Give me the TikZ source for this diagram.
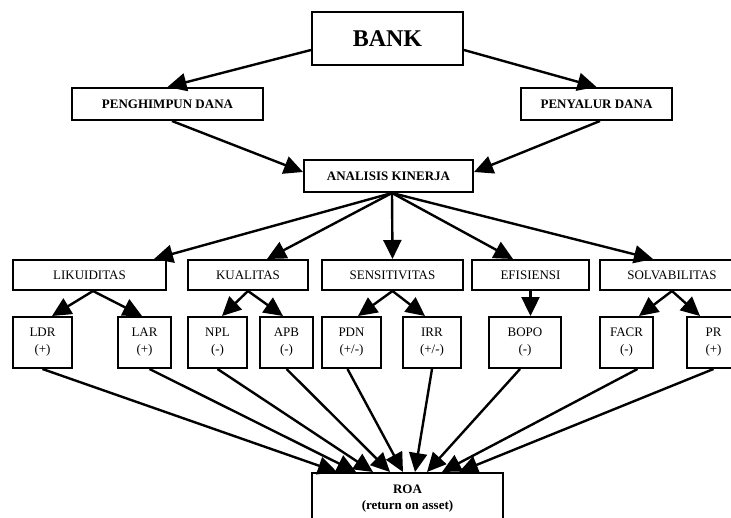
\documentclass[tikz,border=0pt]{standalone}
\usepackage{fontspec}
\setmainfont{Liberation Serif}
\usetikzlibrary{arrows.meta}
\begin{document}
\begin{tikzpicture}[x=1pt,y=-1pt,
  box/.style={draw,line width=2pt,inner sep=0pt,align=center,font=\fontsize{13}{17}\selectfont},
  leaf/.style={box,minimum height=51pt},
  arr/.style={-{Triangle[length=19pt,width=18pt]},line width=2.4pt}]
\clip (0,0) rectangle (731,517);
% top part
\node[box,minimum width=151pt,minimum height=53pt,font=\fontsize{24}{28}\selectfont\bfseries] (bank) at (387.5,38.5) {BANK};
\node[box,minimum width=191pt,minimum height=32pt,font=\fontsize{13}{17}\selectfont\bfseries] (hdana) at (167.5,104) {PENGHIMPUN DANA};
\node[box,minimum width=151pt,minimum height=32pt,font=\fontsize{13}{17}\selectfont\bfseries] (sdana) at (596.5,104) {PENYALUR DANA};
\node[box,minimum width=169pt,minimum height=32pt,font=\fontsize{13}{17}\selectfont\bfseries] (analisis) at (388.5,176) {ANALISIS KINERJA};
% categories
\node[box,minimum width=153pt,minimum height=30pt] (likuid) at (89.5,275) {LIKUIDITAS};
\node[box,minimum width=120pt,minimum height=30pt] (kualitas) at (248,275) {KUALITAS};
\node[box,minimum width=141pt,minimum height=30pt] (sensitiv) at (392.5,275) {SENSITIVITAS};
\node[box,minimum width=117pt,minimum height=30pt] (efisiensi) at (530.5,275) {EFISIENSI};
\node[box,minimum width=144pt,minimum height=30pt] (solva) at (672,275) {SOLVABILITAS};
% ratios
\node[leaf,minimum width=59pt] (ldr) at (42.5,342.5) {LDR\\(+)};
\node[leaf,minimum width=53pt] (lar) at (144.5,342.5) {LAR\\(+)};
\node[leaf,minimum width=59pt] (npl) at (217.5,342.5) {NPL\\(-)};
\node[leaf,minimum width=53pt] (apb) at (286.5,342.5) {APB\\(-)};
\node[leaf,minimum width=59pt] (pdn) at (351.5,342.5) {PDN\\(+/-)};
\node[leaf,minimum width=58pt] (irr) at (432,342.5) {IRR\\(+/-)};
\node[leaf,minimum width=72pt] (bopo) at (525,342.5) {BOPO\\(-)};
\node[leaf,minimum width=53pt] (facr) at (626.5,342.5) {FACR\\(-)};
\node[leaf,minimum width=53pt] (pr) at (713.5,342.5) {PR\\(+)};
% result
\node[box,minimum width=191pt,minimum height=52pt,font=\fontsize{13}{16}\selectfont\bfseries] (roa) at (407.5,499) {ROA\\(return on asset)};

\draw[arr] ([yshift=-11.5pt]bank.west) -- (hdana.north);
\draw[arr] ([yshift=-11.5pt]bank.east) -- (sdana.north);
\draw[arr] ([xshift=4.5pt]hdana.south) -- ([yshift=4pt]analisis.west);
\draw[arr] ([xshift=3.5pt]sdana.south) -- ([yshift=4pt]analisis.east);

\draw[arr] ([xshift=3.5pt]analisis.south) -- ([xshift=-13pt]likuid.north east);
\draw[arr] ([xshift=3.5pt]analisis.south) -- ([xshift=19pt]kualitas.north);
\draw[arr] ([xshift=3.5pt]analisis.south) -- (sensitiv.north);
\draw[arr] ([xshift=3.5pt]analisis.south) -- ([xshift=-17.5pt]efisiensi.north);
\draw[arr] ([xshift=3.5pt]analisis.south) -- ([xshift=-19pt]solva.north);

\draw[arr] ([xshift=3.5pt]likuid.south) -- ([xshift=9.5pt]ldr.north);
\draw[arr] ([xshift=3.5pt]likuid.south) -- ([xshift=-2.5pt]lar.north);
\draw[arr] (kualitas.south) -- ([xshift=4.5pt]npl.north);
\draw[arr] (kualitas.south) -- ([xshift=-3.5pt]apb.north);
\draw[arr] (sensitiv.south) -- ([xshift=6.5pt]pdn.north);
\draw[arr] (sensitiv.south) -- ([xshift=-7pt]irr.north);
\draw[arr] (efisiensi.south) -- (efisiensi.south |- bopo.north);
\draw[arr] (solva.south) -- ([xshift=12.5pt]facr.north);
\draw[arr] (solva.south) -- ([xshift=-13.5pt]pr.north);

\draw[arr] (ldr.south) -- ([xshift=26pt]roa.north west);
\draw[arr] ([xshift=5pt]lar.south) -- ([xshift=45pt]roa.north west);
\draw[arr] (npl.south) -- ([xshift=62pt]roa.north west);
\draw[arr] (apb.south) -- ([xshift=79pt]roa.north west);
\draw[arr] ([xshift=-4pt]pdn.south) -- ([xshift=92pt]roa.north west);
\draw[arr] (irr.south) -- ([xshift=104pt]roa.north west);
\draw[arr] ([xshift=-5pt]bopo.south) -- ([xshift=116pt]roa.north west);
\draw[arr] ([xshift=11pt]facr.south) -- ([xshift=131pt]roa.north west);
\draw[arr] (pr.south) -- ([xshift=148pt]roa.north west);
\end{tikzpicture}
\end{document}
